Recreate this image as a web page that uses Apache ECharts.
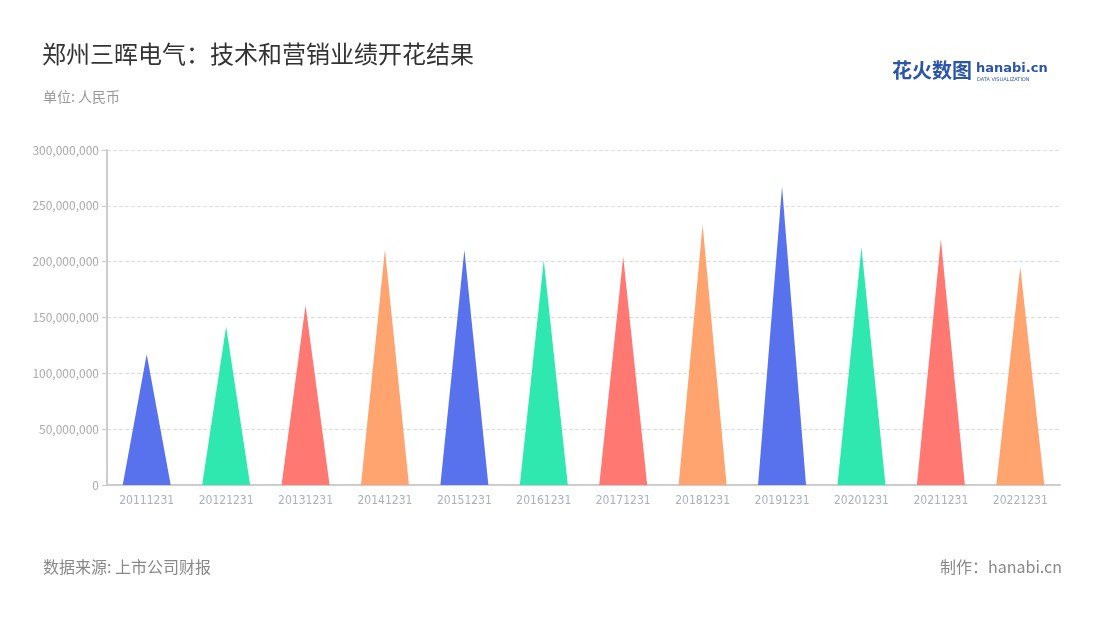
<!DOCTYPE html>
<html><head><meta charset="utf-8">
<script src="https://cdn.jsdelivr.net/npm/echarts@6/dist/echarts.min.js"></script>
<style>html,body{margin:0;padding:0;background:#fff}#c{width:1100px;height:620px}</style>
</head><body><div id="c"></div>
<script>
const categories = ['20111231','20121231','20131231','20141231','20151231','20161231','20171231','20181231','20191231','20201231','20211231','20221231'];
const values = [117000000,142000000,161000000,211000000,210500000,201500000,204500000,233000000,267000000,213000000,220000000,195500000];
const palette = ['#5872EE','#2EE8B0','#FF7872','#FFA36F'];
const yTicks = [0,50000000,100000000,150000000,200000000,250000000,300000000];

const chart = echarts.init(document.getElementById('c'));
const font = '"Noto Sans CJK SC","Noto Sans",sans-serif';
chart.setOption({
  animation:false,
  textStyle:{fontFamily:font},
  title:[
    {text:'郑州三晖电气：技术和营销业绩开花结果',left:37,top:37,textStyle:{fontSize:24,fontWeight:'normal',color:'#333',fontFamily:font}},
    {text:'单位: 人民币',left:38,top:85,textStyle:{fontSize:14,fontWeight:'normal',color:'#999',fontFamily:font}},
    {text:'数据来源: 上市公司财报',left:38,top:554,textStyle:{fontSize:16,fontWeight:'normal',color:'#888',fontFamily:font}},
    {text:'制作：hanabi.cn',right:33,top:554,textStyle:{fontSize:16,fontWeight:'normal',color:'#888',fontFamily:font}}
  ],
  graphic:[
    {type:'text',left:892,top:60,style:{text:'花火数图',fontSize:20,fontWeight:'bold',fill:'#2B55A8',fontFamily:font}},
    {type:'text',left:976,top:62,style:{text:'hanabi.cn',fontSize:13,fontWeight:'bold',fill:'#2B55A8',fontFamily:'"DejaVu Sans",sans-serif'}},
    {type:'text',left:977,top:77,style:{text:'DATA VISUALIZATION',fontSize:5,fill:'#2B55A8',fontFamily:'"DejaVu Sans",sans-serif'}}
  ],
  grid:{left:107,right:40,top:150,bottom:135},
  xAxis:{
    type:'category',data:categories,
    axisLine:{lineStyle:{color:'#ccc',width:2}},
    axisTick:{alignWithLabel:true,lineStyle:{color:'#ccc'}},
    axisLabel:{color:'#aab0bb',fontSize:12,margin:10,fontFamily:'"Liberation Sans Narrow","DejaVu Sans Condensed",sans-serif'}
  },
  yAxis:{
    type:'value',min:0,max:300000000,interval:50000000,
    axisLine:{show:true,lineStyle:{color:'#ccc',width:2}},
    axisTick:{show:true,lineStyle:{color:'#ccc'}},
    splitLine:{lineStyle:{type:'dashed',color:'#ddd'}},
    axisLabel:{color:'#aaa',fontSize:12,formatter:v=>v.toLocaleString('en-US')}
  },
  series:[{
    type:'pictorialBar',
    symbol:'path://M0,10 L10,10 L5,0 L0,10 z',
    symbolSize:[48,'100%'],
    data:values.map((v,i)=>({value:v,itemStyle:{color:palette[i%4]}}))
  }]
});
</script></body></html>
